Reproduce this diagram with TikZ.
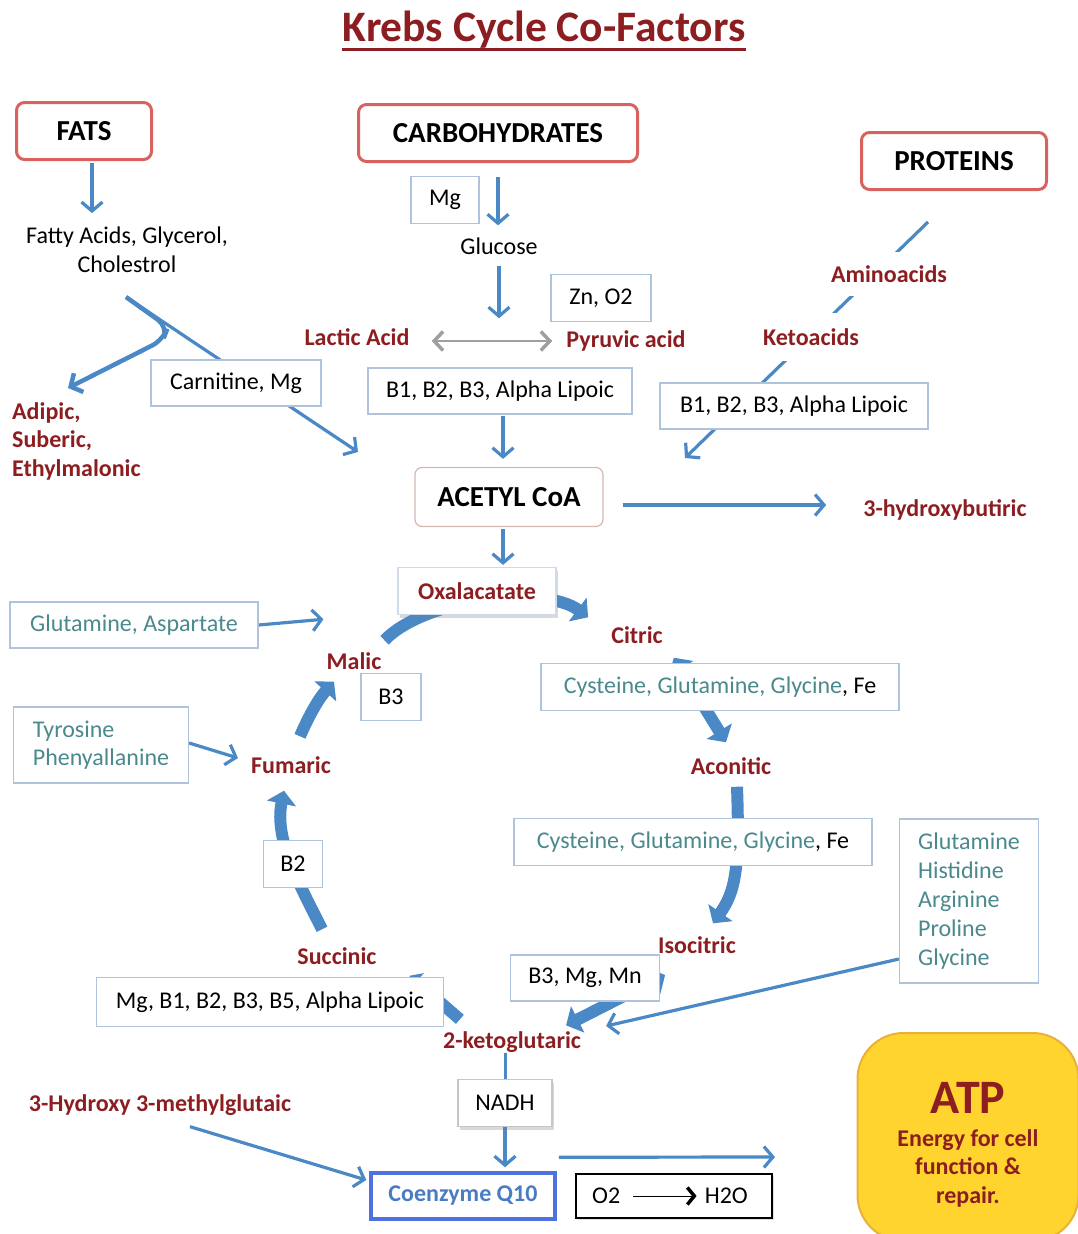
\documentclass[tikz,border=0pt]{standalone}
\usepackage{fontspec}
\setmainfont{Carlito}
\usepackage{xcolor}
\usetikzlibrary{arrows.meta,positioning,backgrounds,shadows}
\definecolor{kred}{HTML}{8C1D20}
\definecolor{kboxred}{HTML}{D8625E}
\definecolor{kacetyl}{HTML}{D6B7B0}
\definecolor{kblue}{HTML}{4A88C6}
\definecolor{kteal}{HTML}{4A898D}
\definecolor{kline}{HTML}{AFC3DC}
\definecolor{kqten}{HTML}{4D72E0}
\definecolor{kqtext}{HTML}{4A7CC4}
\definecolor{katp}{HTML}{FFD42E}
\definecolor{katpedge}{HTML}{E9B03A}
\newcommand{\txtsize}{\fontsize{24}{28.5}\selectfont}
\newcommand{\amino}[1]{{\color{kteal}#1}}

\begin{document}
\begin{tikzpicture}[x=1pt,y=-1pt,
    every node/.style={font=\txtsize,inner sep=0pt},
    lbl/.style={font=\txtsize\bfseries,text=kred},
    head/.style={draw=kboxred,line width=3pt,rounded corners=8pt,
                 font=\fontsize{29}{34}\selectfont\bfseries,minimum height=57pt},
    cof/.style={draw=kline,fill=white,line width=1.2pt,minimum height=46pt},
    arr/.style={draw=kblue,line width=3.2pt,-{Straight Barb[length=9pt,width=21pt]}},
    darr/.style={draw=gray!75,line width=1.5pt,
                 {Straight Barb[length=9pt,width=19pt,line width=3.5pt]}-{Straight Barb[length=9pt,width=19pt,line width=3.5pt]}},
    cyc/.style={draw=kblue,line width=12pt,-{Triangle[length=13pt,width=29pt]}},
    cycb/.style={draw=kblue,line width=12pt,{Triangle[length=13pt,width=29pt]}-{Triangle[length=13pt,width=29pt]}}]
  \clip (0,0) rectangle (1078,1234);

  % title
  \node[font=\fontsize{43.5}{48}\selectfont\bfseries,text=kred] (title) at (544,30) {Krebs Cycle Co-Factors};
  \draw[kred,line width=2.5pt] ([yshift=-0.5pt]title.south west) -- ([yshift=-0.5pt]title.south east);

  % food groups
  \node[head,minimum width=135pt] (fats) at (84,131) {FATS};
  \node[head,minimum width=279pt] (carbs) at (498,133) {CARBOHYDRATES};
  \node[head,minimum width=185pt] (prot) at (954,161) {PROTEINS};

  % fats branch
  \node[align=center] (fatty) at (127,250) {Fatty Acids, Glycerol,\\Cholestrol};
  \node[lbl,align=left,anchor=west] (adipic) at (12,441) {Adipic,\\Suberic,\\Ethylmalonic};
  \node[cof,minimum width=170pt] (carn) at (236,383) {Carnitine, Mg};
  \coordinate (fsplit) at (126,297);
  \coordinate (fend) at (358,452);
  \coordinate (fadip) at (68,388);

  % carbohydrates branch
  \node[cof,minimum width=68pt,minimum height=47pt] (mg) at (445,200) {Mg};
  \node (glucose) at (499,246) {Glucose};
  \node[cof,minimum width=100pt,minimum height=47pt] (zn) at (601,298) {Zn, O2};
  \node[lbl] (lactic) at (357,337) {Lactic Acid};
  \node[lbl] (pyruvic) at (626,341) {Pyruvic acid};
  \node[cof,minimum width=264pt] (vitc) at (500,391) {B1, B2, B3, Alpha Lipoic};

  % proteins branch
  \node[lbl,fill=white,inner xsep=6pt,inner ysep=13pt] (amino) at (889,274) {Aminoacids};
  \node[lbl,fill=white,inner xsep=6pt,inner ysep=15pt] (keto) at (811,337) {Ketoacids};
  \node[cof,minimum width=268pt] (vitp) at (794,406) {B1, B2, B3, Alpha Lipoic};
  \coordinate (pend) at (685,458);

  \node[draw=kacetyl,fill=white,line width=1.2pt,rounded corners=7pt,minimum width=188pt,minimum height=59pt,
        font=\fontsize{29}{34}\selectfont\bfseries] (acetyl) at (509,497) {ACETYL CoA};
  \node[lbl] (hbut) at (945,510) {3-hydroxybutiric};

  % the cycle
  \node[cof,draw=kline!60,minimum width=158pt,minimum height=47pt,lbl,
        drop shadow={opacity=.3,shadow xshift=2pt,shadow yshift=-3pt}] (oxal) at (477,591) {Oxalacatate};
  \node[lbl] (citric) at (637,635) {Citric};
  \node[cof,minimum width=358pt,minimum height=47pt] (cys1) at (720,687) {\amino{Cysteine, Glutamine, Glycine}, Fe};
  \node[lbl] (aconitic) at (731,766) {Aconitic};
  \node[cof,minimum width=358pt,minimum height=47pt] (cys2) at (693,842) {\amino{Cysteine, Glutamine, Glycine}, Fe};
  \node[lbl] (isocitric) at (697,945) {Isocitric};
  \node[cof,text=kteal,align=left,font=\fontsize{24}{29}\selectfont,minimum width=139pt,minimum height=164pt] (glist) at (969,901)
    {Glutamine\\Histidine\\Arginine\\Proline\\Glycine};
  \node[cof,minimum width=149pt] (b3mg) at (585,978) {B3, Mg, Mn};
  \node[lbl] (akg) at (512,1042) {2-ketoglutaric};
  \node[cof,minimum width=347pt,minimum height=49pt] (mgb1) at (270,1002) {Mg, B1, B2, B3, B5, Alpha Lipoic};
  \node[lbl] (succinic) at (337,956) {Succinic};
  \node[cof,minimum width=59pt,minimum height=47pt] (b2) at (293,864) {B2};
  \node[lbl] (fumaric) at (291,765) {Fumaric};
  \node[lbl] (malic) at (354,661) {Malic};
  \node[cof,minimum width=60pt,minimum height=47pt] (b3) at (391,697) {B3};
  \node[cof,text=kteal,minimum width=248pt] (glasp) at (134,625) {Glutamine, Aspartate};
  \node[cof,text=kteal,align=left,minimum width=175pt,minimum height=76pt] (tyro) at (101,745) {Tyrosine\\Phenyallanine};

  % electron transport
  \node[cof,draw=gray!45,minimum width=94pt,minimum height=47pt,
        drop shadow={opacity=.3,shadow xshift=2pt,shadow yshift=-3pt}] (nadh) at (505,1103) {NADH};
  \node[lbl] (hmg) at (160,1105) {3-Hydroxy 3-methylglutaic};
  \node[draw=kqten,line width=3.5pt,fill=white,minimum width=184pt,minimum height=46pt,
        font=\txtsize\bfseries,text=kqtext] (coq) at (463,1196) {Coenzyme Q10};
  \node[draw=black,line width=2pt,fill=white,minimum width=196pt,minimum height=44pt,
        drop shadow={opacity=.25,shadow xshift=2pt,shadow yshift=-2pt}] (water) at (674,1196) {};
  \node[right=17pt of water.west] (o2) {O2};
  \node[left=25pt of water.east] (h2o) {H2O};
  \draw[line width=1pt,shorten <=13pt,shorten >=8pt,-{Straight Barb[length=7pt,width=17pt,line width=3.5pt]}] (o2.east) -- (h2o.west);

  \node[fill=katp,draw=katpedge,line width=2pt,rounded corners=46pt,minimum width=221pt,minimum height=208pt] (atp) at (968,1137) {};
  \node[font=\fontsize{48}{52}\selectfont\bfseries,text=kred] (atpname) at (968,1098) {ATP};
  \node[lbl,align=center] (energy) at (968,1168) {Energy for cell\\function \&\\repair.};

  \begin{scope}[on background layer]
    % feeders
    \draw[arr,shorten <=2pt,shorten >=14pt] ([xshift=8pt]fats.south) -- ([xshift=8pt]fats.south |- fatty.north);
    \draw[arr,shorten <=14pt,shorten >=12pt] (carbs.south) -- (carbs.south |- glucose.north);
    \draw[arr,shorten <=11pt,shorten >=10pt] (glucose.south) -- (glucose.south |- lactic.north);
    \draw[darr,shorten <=22pt,shorten >=14pt] (lactic.east |- pyruvic.west) -- (pyruvic.west);
    \draw[arr,shorten <=1pt,shorten >=8pt] ([xshift=3pt]vitc.south) -- ([xshift=3pt]vitc.south |- acetyl.north);
    \draw[arr] (fsplit) -- (fend);
    \draw[arr,line width=4.5pt,rounded corners=12pt] (fsplit) -- (168,327) -- (163,340) -- (fadip);
    \draw[arr] ([xshift=-26pt,yshift=-31pt]prot.south) -- (pend);
    \draw[arr,shorten <=19pt] ([yshift=-8pt]acetyl.east) -- ([xshift=-37pt,yshift=5pt]hbut.west);
    \draw[arr,shorten <=2pt,shorten >=2pt] ([xshift=-6pt]acetyl.south) -- ([xshift=-6pt]acetyl.south |- oxal.north);
    % cycle
    \draw[cyc] ([xshift=3pt,yshift=12pt]malic.north east) .. controls (425,598) and (545,585) .. ([xshift=-23pt,yshift=9pt]citric.north west);
    \draw[cycb] ([xshift=11pt,yshift=-14pt]citric.south east) -- ([xshift=-5pt,yshift=15pt]aconitic.north);
    \draw[cyc] ([xshift=6pt,yshift=-12pt]aconitic.south) .. controls (740,870) and (735,892) .. ([xshift=16pt,yshift=13pt]isocitric.north);
    \draw[cycb] ([xshift=5pt,yshift=3pt]b3mg.east) -- ([xshift=-15pt,yshift=6pt]akg.north east);
    \draw[cyc,-{Triangle[length=9pt,width=22pt]}] ([xshift=17pt,yshift=12pt]akg.north west) -- ([xshift=33pt,yshift=-11pt]succinic.south east);
    \draw[cyc] ([xshift=-15pt,yshift=18pt]succinic.north) .. controls (300,885) and (274,840) .. ([xshift=-7pt,yshift=-17pt]fumaric.south);
    \draw[cyc] ([xshift=9pt,yshift=20pt]fumaric.north) .. controls (310,713) and (320,697) .. ([xshift=-20pt,yshift=-12pt]malic.south);
    % amino acid inputs
    \draw[arr] (glasp.east) -- ([xshift=-3pt,yshift=33pt]malic.north west);
    \draw[arr] ([yshift=2pt]tyro.east) -- ([xshift=-13pt,yshift=7pt]fumaric.west);
    \draw[arr] ([yshift=-58pt]glist.west) -- ([xshift=25pt,yshift=16pt]akg.east);
    % to coenzyme Q10
    \draw[draw=kblue,line width=3pt] (akg.south -| nadh.north) -- (nadh.north);
    \draw[arr,shorten >=4pt] (nadh.south) -- (nadh.south |- coq.north);
    \draw[arr] ([xshift=30pt,yshift=-11pt]hmg.south) -- ([xshift=-3pt,yshift=16pt]coq.west);
    \draw[arr] ([xshift=2pt,yshift=14pt]coq.north east) -- ([xshift=2pt,yshift=16pt]water.north east);
  \end{scope}
\end{tikzpicture}
\end{document}
